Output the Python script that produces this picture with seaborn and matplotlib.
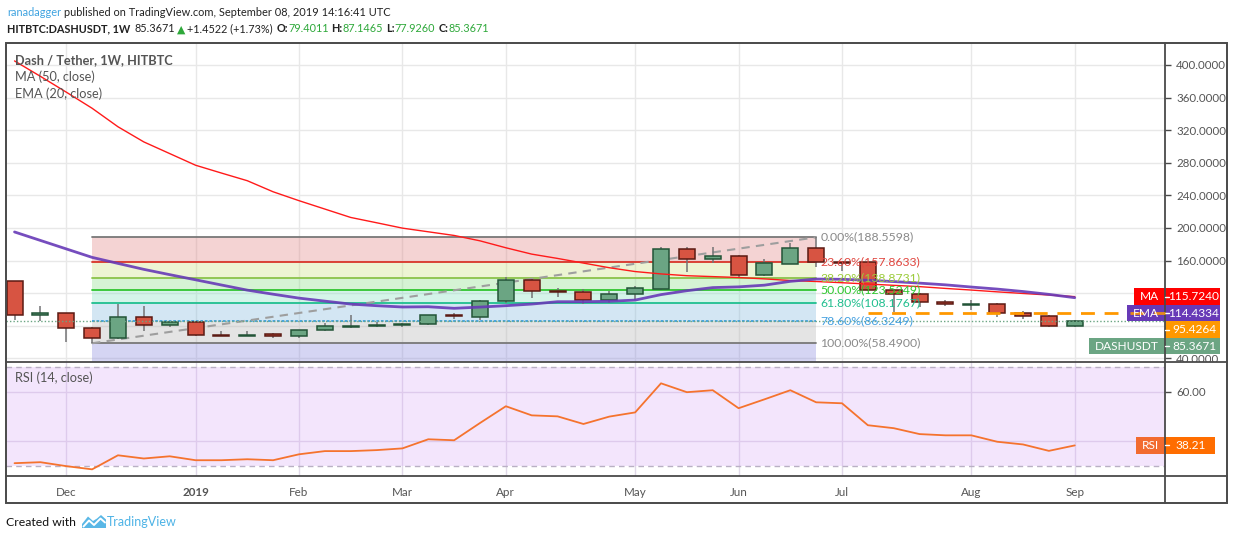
import numpy as np
import pandas as pd
import matplotlib
matplotlib.use("Agg")
import matplotlib.pyplot as plt
import seaborn as sns
from matplotlib.patches import Rectangle, Polygon
from matplotlib.transforms import Bbox
from matplotlib import colors as mcolors
from matplotlib import font_manager

# ---------------- data ----------------
first_week = "2018-11-19"
n_weeks = 42
opens = [134.6, 92.9, 95.3, 76.9, 64.6, 90.4, 80.6, 84.3, 68.6, 67.6,
         69.9, 67.1, 74.5, 79.0, 79.6, 80.9, 81.8, 92.6, 91.1, 110.0,
         135.8, 122.7, 121.4, 111.2, 118.6, 124.7, 173.8, 161.6, 165.6, 141.9,
         156.2, 175.4, 158.2, 157.9, 123.5, 118.6, 108.8, 106.0, 106.3, 95.3,
         92.0, 79.4011]
highs = [135.5, 104.3, 96.0, 78.1, 106.7, 104.3, 85.0, 85.5, 73.6, 73.6,
         71.5, 75.0, 83.4, 92.9, 84.6, 83.0, 93.5, 95.3, 111.6, 139.5,
         137.8, 126.0, 124.7, 122.7, 128.8, 177.0, 177.0, 177.0, 166.5, 161.6,
         182.0, 188.5598, 158.8, 158.5, 124.5, 120.6, 111.6, 111.6, 108.0, 98.1,
         93.2, 87.1465]
lows = [87.1, 85.9, 60.5, 58.49, 64.0, 74.0, 78.1, 67.5, 67.5, 67.2,
        65.4, 65.4, 74.0, 77.6, 78.1, 78.0, 80.6, 88.7, 87.1, 108.3,
        114.1, 115.7, 107.1, 107.6, 111.6, 124.0, 146.4, 157.4, 139.5, 141.0,
        155.5, 152.5, 147.2, 123.0, 96.5, 103.4, 104.3, 99.3, 91.1, 87.9,
        79.0, 77.926]
closes = [92.9, 95.3, 76.9, 64.6, 90.4, 80.6, 84.3, 68.3, 68.0, 68.4,
          67.1, 74.5, 79.4, 79.6, 81.0, 81.7, 92.9, 91.6, 110.0, 135.8,
          122.3, 121.1, 111.2, 118.6, 126.0, 173.8, 161.6, 165.6, 141.9, 157.0,
          175.4, 158.2, 157.6, 123.5, 118.6, 108.8, 106.3, 106.4, 95.3, 91.6,
          79.4, 85.3671]
ma50 = [405.0, 386.1, 366.7, 346.9, 324.2, 305.6, 291.3, 277.0, 267.4, 258.0,
        244.4, 233.5, 223.2, 212.9, 206.4, 199.8, 195.3, 190.8, 184.2, 175.7,
        167.9, 162.6, 156.9, 151.2, 146.5, 143.6, 141.4, 140.3, 139.2, 137.5,
        135.5, 134.3, 132.8, 131.2, 129.6, 128.0, 125.8, 123.8, 121.6, 119.6,
        117.7, 115.7240]
ema20 = [195.1, 184.7, 174.3, 163.9, 156.5, 149.2, 142.7, 136.4, 130.0, 123.7,
         118.7, 113.9, 110.2, 106.6, 104.6, 103.0, 103.3, 101.4, 102.9, 104.6,
         106.6, 109.5, 109.5, 110.0, 111.5, 118.2, 123.0, 126.8, 127.7, 129.8,
         134.5, 137.3, 137.0, 135.8, 134.2, 132.3, 130.2, 127.5, 125.0, 122.0,
         118.5, 114.4334]
rsi14 = [31.0, 31.4, 29.8, 28.5, 34.2, 32.9, 33.8, 32.2, 32.2, 32.6,
         32.2, 34.6, 35.9, 35.9, 36.3, 37.0, 40.7, 40.3, 47.3, 54.1,
         50.4, 50.0, 46.9, 49.9, 51.6, 63.4, 59.8, 60.6, 53.3, 56.9,
         60.6, 55.7, 55.3, 46.4, 45.2, 42.8, 42.3, 42.3, 39.7, 38.6,
         36.0, 38.21]
price_ticks = [40, 80, 120, 160, 200, 240, 280, 320, 360, 400]
rsi_ticks = [40, 60]
rsi_band = [30, 70]
fib_high = 188.5598
fib_low = 58.4900
fib_start_week = "2018-12-10"
fib_end_week = "2019-06-24"
fib_ratios = [0.0, 0.236, 0.382, 0.5, 0.618, 0.786, 1.0, 1.618]
orange_level = 95.4264
orange_start_week = "2019-07-08"
header_change = "+1.4522 (+1.73%)"

# ---------------- styles ----------------
W, H = 1234, 540
FAM = ["Lato", "DejaVu Sans"]
sns.set_theme(style="white")
plt.rcParams["font.family"] = FAM


def has_font(name):
    try:
        font_manager.findfont(font_manager.FontProperties(family=name),
                              fallback_to_default=False)
        return True
    except Exception:
        return False


HEAD_FAM = (["Liberation Sans Narrow"] if has_font("Liberation Sans Narrow") else []) + FAM

UP, UP_EDGE = "#6ba583", "#225437"
DN, DN_EDGE = "#d75442", "#5b1a13"
WICK = "#737375"
GRID = "#e8e8e8"
FRAME = "#4a4a4a"
TXT = "#555555"
ORANGE_DASH = (0, (5, 3.5))

fig = plt.figure(figsize=(W / 100, H / 100), dpi=100)
fig.patch.set_facecolor("white")


def ax_rect(l, t, r, b):
    return [l / W, 1 - b / H, (r - l) / W, (b - t) / H]


ax = fig.add_axes(ax_rect(6, 43, 1165, 362))
ax2 = fig.add_axes(ax_rect(6, 362, 1165, 476), sharex=ax)

df = pd.DataFrame({
    "week": pd.date_range(first_week, periods=n_weeks, freq="W-MON"),
    "open": opens, "high": highs, "low": lows, "close": closes,
    "ma": ma50, "ema": ema20, "rsi": rsi14,
})
df["i"] = np.arange(len(df))
idx_of = {d: i for i, d in zip(df["i"], df["week"])}

# month ticks: first bar of each month
first_of_month = df.groupby([df["week"].dt.year, df["week"].dt.month])["i"].min().values[1:]
tick_labels = []
for i in first_of_month:
    d = df["week"].iloc[i]
    tick_labels.append(str(d.year) if d.month == 1 else d.strftime("%b"))

xmin, xmax = -0.33, 44.49
ax.set_xlim(xmin, xmax)
ax.set_ylim(35.5, 427.0)
ax2.set_ylim(25.8, 72.05)

for a in (ax, ax2):
    a.set_facecolor("white")
    for s in a.spines.values():
        s.set_visible(False)
    a.set_axisbelow(True)

ax.set_xticks(first_of_month)
ax.tick_params(axis="x", which="both", length=0, labelbottom=False)
ax.set_yticks(price_ticks)
ax.yaxis.tick_right()
ax.yaxis.set_major_formatter(lambda v, p: f"{v:.4f}")
ax.tick_params(axis="y", length=4, width=1, color=FRAME, labelsize=8.3,
               labelcolor=TXT, pad=4)
ax.grid(True, color=GRID, lw=1)

ax2.set_xticks(first_of_month)
ax2.set_xticklabels(tick_labels)
ax2.tick_params(axis="x", length=4, width=1, color=FRAME, labelsize=8.4,
                labelcolor=TXT, pad=4)
for lab in ax2.get_xticklabels():
    if lab.get_text().isdigit():
        lab.set_fontweight("bold")
ax2.set_yticks(rsi_ticks)
ax2.yaxis.tick_right()
ax2.yaxis.set_major_formatter(lambda v, p: f"{v:.2f}")
ax2.tick_params(axis="y", length=4, width=1, color=FRAME, labelsize=8.3,
                labelcolor=TXT, pad=4)
ax2.grid(True, color="#e0d8e8", lw=1)


def tint(target, alpha):
    t = np.array(mcolors.to_rgb(target))
    base = np.clip(1 - (1 - t) / alpha, 0, 1)
    return (*base, alpha)


# ---------------- fibonacci ----------------
fs, fe = idx_of[pd.Timestamp(fib_start_week)], idx_of[pd.Timestamp(fib_end_week)]
fib_levels = [fib_high - r * (fib_high - fib_low) for r in fib_ratios]
band_cols = ["#f4d3d3", "#edf5d3", "#d5f3d4", "#d4f4e9", "#d3e7f3", "#e4e4e4", "#d5d5f3"]
line_cols = ["#787878", "#d9352a", "#8bc34a", "#2fc52f", "#1fbf8f", "#3d9fdc", "#787878"]
text_cols = ["#8a8a8a", "#e0463f", "#9ccc3c", "#2ec82e", "#22bf8f", "#44a0e0", "#8a8a8a"]
xs = [fs, fe]
for k in range(len(fib_levels) - 1):
    ax.fill_between(xs, fib_levels[k + 1], fib_levels[k], color=tint(band_cols[k], 0.35),
                    lw=0, zorder=1)
for k in range(len(fib_levels) - 1):
    ls = (0, (1.5, 1)) if fib_ratios[k] == 0.786 else "-"
    sns.lineplot(x=xs, y=[fib_levels[k]] * 2, ax=ax, color=line_cols[k], lw=1.3,
                 ls=ls, zorder=2)
    ax.annotate(f"{fib_ratios[k]*100:.2f}%({fib_levels[k]:.4f})", xy=(fe, fib_levels[k]),
                xytext=(3, 0), textcoords="offset points", va="center", ha="left",
                color=text_cols[k], fontsize=8.8, zorder=6)
# trend line of the retracement
ax.plot([fs, fe], [fib_low, fib_high], color="#9e9e9e", lw=1.5, ls=(0, (4, 3)), zorder=2)

# ---------------- candles ----------------
o = df["open"].values; c = df["close"].values
up = c >= o
bb = np.minimum(o, c)
bh = np.maximum(np.abs(c - o), 0.4)
ax.vlines(df["i"], df["low"], df["high"], color=WICK, lw=1.1, zorder=3)
ax.bar(df["i"][up], bh[up], bottom=bb[up], width=0.62, color=UP, edgecolor=UP_EDGE,
       lw=1.1, zorder=4)
ax.bar(df["i"][~up], bh[~up], bottom=bb[~up], width=0.62, color=DN, edgecolor=DN_EDGE,
       lw=1.1, zorder=4)

# ---------------- moving averages ----------------
sns.lineplot(data=df, x="i", y="ma", ax=ax, color="#ff1a1a", lw=1.0, zorder=5)
sns.lineplot(data=df, x="i", y="ema", ax=ax, color="#673ab7", lw=2.0, zorder=5, alpha=0.9)

# horizontal lines
os_i = idx_of[pd.Timestamp(orange_start_week)]
ax.plot([os_i, xmax], [orange_level] * 2, color="#ff9800", lw=2, ls=ORANGE_DASH, zorder=5)
ax.plot([xmin, xmax], [closes[-1]] * 2, color=UP, lw=1, ls=(0, (1, 1.5)), zorder=5)
ax.set_xlabel(""); ax.set_ylabel("")

# ---------------- RSI ----------------
ax2.axhspan(rsi_band[0], rsi_band[1], color=tint("#f4e6fd", 0.3), lw=0, zorder=1)
for lv in rsi_band:
    ax2.axhline(lv, color="#b9b0c4", lw=1, ls=(0, (4, 3)), zorder=2)
sns.lineplot(data=df, x="i", y="rsi", ax=ax2, color="#f5732e", lw=1.3, zorder=4)
ax2.set_xlabel(""); ax2.set_ylabel("")
ax.set_xlim(xmin, xmax)

# clip price tick labels to the price pane
clipbox = Bbox.from_extents(1160, H - 362, W, H - 43)
for tk in ax.yaxis.get_major_ticks():
    for lab in (tk.label1, tk.label2):
        lab.set_clip_box(clipbox)
        lab.set_clip_on(True)

# ---------------- overlay (frame, labels, texts) ----------------
ov = fig.add_axes([0, 0, 1, 1], zorder=10)
ov.set_xlim(0, W); ov.set_ylim(H, 0); ov.axis("off"); ov.patch.set_alpha(0)
ov.add_patch(Rectangle((6, 43), 1221, 460, fill=False, ec=FRAME, lw=1.4))
ov.plot([1165, 1165], [43, 503], color=FRAME, lw=1.3)
ov.plot([6, 1227], [362, 362], color=FRAME, lw=1.3)
ov.plot([6, 1227], [476, 476], color=FRAME, lw=1.3)

renderer = fig.canvas.get_renderer()


def text_w(s, size, weight="normal", family=None):
    t = ov.text(0, 0, s, fontsize=size, fontweight=weight, family=family or FAM)
    w = t.get_window_extent(renderer=renderer).width
    t.remove()
    return w


def price_px(a, v):
    return H - a.transData.transform((0, v))[1]


def hide_covered_ticks(a, box_centers, half):
    for tk, v in zip(a.yaxis.get_major_ticks(), a.get_yticks()):
        py = price_px(a, v)
        if any(abs(py - bc) < half + 5 for bc in box_centers):
            tk.label1.set_visible(False)
            tk.label2.set_visible(False)


BOXH = 16.5
price_labels = [("MA", ma50[-1], "#ff0000", "#ff0000"),
                ("EMA", ema20[-1], "#673ab7", "#673ab7"),
                (None, orange_level, "#ff9800", None),
                ("DASHUSDT", closes[-1], UP, UP)]
price_labels.sort(key=lambda t: -t[1])
prev = -1e9
centers = []
name_left = {}
for name, v, vcol, ncol in price_labels:
    py = max(price_px(ax, v), prev + BOXH)
    prev = py
    centers.append(py)
    ov.add_patch(Rectangle((1165, py - BOXH / 2), 55, BOXH, color=vcol, lw=0))
    ov.plot([1165, 1169], [py, py], color="white", lw=1)
    ov.text(1194, py, f"{v:.4f}", color="white", fontsize=8.6, ha="center", va="center")
    if name:
        w = text_w(name, 8.6) + 12
        name_left[name] = 1165 - w
        ov.add_patch(Rectangle((1165 - w, py - BOXH / 2), w, BOXH, color=ncol, lw=0))
        ov.text(1165 - w / 2, py, name, color="white", fontsize=8.6, ha="center", va="center")
hide_covered_ticks(ax, centers[:-1], BOXH / 2)
# the orange level line runs over the name box of the EMA label
oy = price_px(ax, orange_level)
ov.plot([name_left["EMA"] + 3, 1165], [oy, oy], color="#ff9800", lw=2, ls=ORANGE_DASH,
        alpha=0.85)

py = price_px(ax2, rsi14[-1])
ov.add_patch(Rectangle((1165, py - BOXH / 2), 50, BOXH, color="#ff6d00", lw=0))
ov.plot([1165, 1169], [py, py], color="white", lw=1)
ov.text(1191, py, f"{rsi14[-1]:.2f}", color="white", fontsize=8.6, ha="center", va="center")
w = text_w("RSI", 8.6) + 12
ov.add_patch(Rectangle((1165 - w, py - BOXH / 2), w, BOXH, color="#f26b2f", lw=0))
ov.text(1165 - w / 2, py, "RSI", color="white", fontsize=8.6, ha="center", va="center")
hide_covered_ticks(ax2, [py], BOXH / 2)

# pane legends
ov.text(15, 60, "Dash / Tether, 1W, HITBTC", color=TXT, fontsize=9.2, fontweight="bold", va="center")
ov.text(15, 77, "MA (50, close)", color=TXT, fontsize=9.2, va="center")
ov.text(15, 94, "EMA (20, close)", color=TXT, fontsize=9.2, va="center")
ov.text(15, 378, "RSI (14, close)", color=TXT, fontsize=9.2, va="center")


def seq(x, y, parts, target_w):
    fam = HEAD_FAM + ["DejaVu Sans"]
    base = 10.0
    total = sum(text_w(s, base, wt, fam) + gap for s, col, wt, gap in parts)
    size = base * target_w / total
    for s, col, wt, gap in parts:
        t = ov.text(x, y, s, color=col, fontsize=size, fontweight=wt, va="center",
                    ha="left", family=fam)
        x += t.get_window_extent(renderer=renderer).width + gap * size / base


GREEN = "#2ea83a"
seq(7, 13, [("ranadagger", "#3fa3e0", "normal", 3),
            ("published on TradingView.com, September 08, 2019 14:16:41 UTC", "#222222", "normal", 0)],
    383)
seq(7, 29, [("HITBTC:DASHUSDT, 1W", "#222222", "bold", 6),
            (f"{closes[-1]:.4f}", "#222222", "normal", 2),
            ("▲", GREEN, "normal", 2),
            (header_change, "#222222", "normal", 5),
            ("O:", "#222222", "bold", 0), (f"{opens[-1]:.4f}", GREEN, "normal", 4),
            ("H:", "#222222", "bold", 0), (f"{highs[-1]:.4f}", GREEN, "normal", 4),
            ("L:", "#222222", "bold", 0), (f"{lows[-1]:.4f}", GREEN, "normal", 4),
            ("C:", "#222222", "bold", 0), (f"{closes[-1]:.4f}", GREEN, "normal", 0)],
    482)

# footer
seq(6, 522.5, [("Created with", "#111111", "normal", 0)], 70)
ov.add_patch(Polygon([(82, 528), (82, 524), (88, 516.5), (93, 521), (97, 518.5), (101, 515),
                      (106, 519.5), (106, 528)], closed=True, color="#59b7e6", lw=0))
ov.plot([83.5, 89, 94, 100.5, 105], [526.5, 520.5, 525, 518.5, 522.5], color="white", lw=1.4)
seq(107, 522.5, [("TradingView", "#4db3e6", "normal", 0)], 70)

fig.savefig("out.png", dpi=100)
